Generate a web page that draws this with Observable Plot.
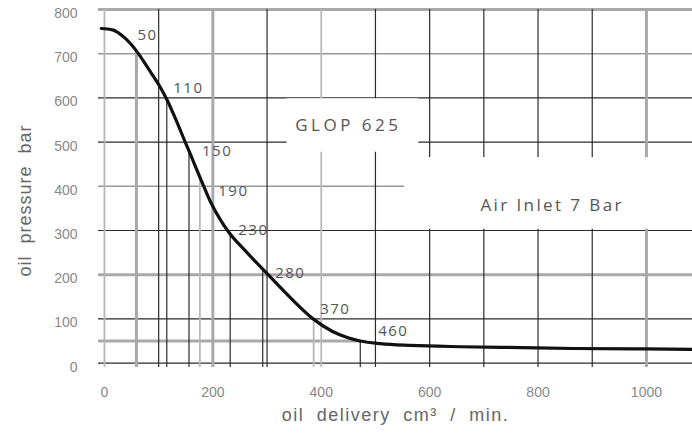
<!DOCTYPE html>
<html><head><meta charset="utf-8">
<script src="https://cdn.jsdelivr.net/npm/d3@7"></script>
<script src="https://cdn.jsdelivr.net/npm/@observablehq/plot@0.6"></script>
<style>
html,body{margin:0;padding:0;background:#fff;}
#chart svg{display:block;}
</style></head><body><div id="chart"></div>
<script>
// Axis ticks
const xTicks = [0, 200, 400, 600, 800, 1000];
const yTicks = [0, 100, 200, 300, 400, 500, 600, 700, 800];
const xMin = -11, xMax = 1085, yMin = -10, yMax = 800;

// Performance curve: oil delivery (cm3/min) vs oil pressure (bar)
const flow =     [-6, 15, 39, 61, 81, 103, 116, 131, 149, 160, 177, 196, 214, 227, 263, 302, 343, 385, 420, 448, 472, 509, 565, 657, 770, 865, 1000, 1085];
const pressure = [757, 754, 734, 703, 666, 624, 594, 553, 500, 468, 418, 364, 324, 300, 250, 200, 148, 100, 72, 58, 50, 44, 40, 37, 35, 33, 32, 31];

// Grid lines
const gridXDark = [100, 300, 500, 600, 700, 800, 900];
const gridXGrey = [200, 1000];
const gridXLight = [0, 400];
const gridYDark = [0, 100, 300, 500, 600];
const gridYGrey = [200, 800];
const gridYLight = [400, 700];
const gridYShort = [50];
const shortEnd = 472;

// Drop lines from the curve to the axis
const dropDark = [115, 156, 232, 292, 472];
const dropGrey = [59];
const dropLight = [176, 386];

// Point labels along the curve
const pointLabels = ["50", "110", "150", "190", "230", "280", "370", "460"];
const pointLabelX = [61, 127, 180, 210, 247, 315, 398, 505];
const pointLabelY = [743, 623, 479, 389, 300, 203, 122, 72];

// Annotations
const modelText = ["GLOP 625"];
const modelX = [450], modelY = [538];
const noteText = ["Air Inlet 7 Bar"];
const noteX = [826], noteY = [357];
// white boxes behind annotations (data extents)
const boxX1 = [337, 554], boxX2 = [580, 1090], boxY1 = [477, 303], boxY2 = [598, 465];

const xTitle = "oil delivery cm\u00B3 / min.";
const yTitle = "oil pressure bar";

const atFlow = d3.scaleLinear().domain(flow).range(pressure);
const boxes = boxX1.map((d, i) => ({x1: d, x2: boxX2[i], y1: boxY1[i], y2: boxY2[i]}));
const curve = flow.map((d, i) => ({x: d, y: pressure[i]}));
const labels = pointLabels.map((t, i) => ({t, x: pointLabelX[i], y: pointLabelY[i]}));

const DARK = "#2b2b2b", GREY = "#a9a9a9", LIGHT = "#b8b8b8";

const chart = Plot.plot({
  width: 692, height: 441,
  marginLeft: 98, marginRight: 0, marginTop: 9, marginBottom: 74,
  x: {domain: [xMin, xMax]},
  y: {domain: [yMin, yMax]},
  style: {fontFamily: "'Liberation Sans', Arial, sans-serif", color: "#888", background: "white"},
  marks: [
    Plot.ruleY(gridYLight, {stroke: "#9a9a9a", strokeWidth: 1.6}),
    Plot.ruleY(gridYGrey, {stroke: GREY, strokeWidth: 3}),
    Plot.ruleY(gridYShort, {x1: xMin, x2: shortEnd, stroke: GREY, strokeWidth: 3}),
    Plot.ruleY(gridYDark, {stroke: DARK, strokeWidth: 1.2}),
    Plot.ruleX(gridXLight, {y1: yMin, y2: yMax, stroke: LIGHT, strokeWidth: 1.8}),
    Plot.ruleX(gridXGrey, {y1: yMin, y2: yMax, stroke: GREY, strokeWidth: 3}),
    Plot.ruleX(gridXDark, {y1: yMin, y2: yMax, stroke: DARK, strokeWidth: 1.2}),
    Plot.ruleX(dropGrey, {y1: yMin, y2: d => atFlow(d), stroke: GREY, strokeWidth: 3}),
    Plot.ruleX(dropLight, {y1: yMin, y2: d => atFlow(d), stroke: LIGHT, strokeWidth: 1.8}),
    Plot.ruleX(dropDark, {y1: yMin, y2: d => atFlow(d), stroke: DARK, strokeWidth: 1.2}),
    Plot.rect(boxes, {x1: "x1", x2: "x2", y1: "y1", y2: "y2", fill: "white"}),
    Plot.line(curve, {x: "x", y: "y", curve: "monotone-x", stroke: "#111", strokeWidth: 3.2, strokeLinecap: "round"}),
    Plot.text(labels, {x: "x", y: "y", text: "t", textAnchor: "start", fontSize: 15, fill: "#555", fontFamily: "'Open Sans', sans-serif"}),
    Plot.text(modelText, {x: modelX, y: modelY, text: d => d, fontSize: 17, fill: "#555", fontFamily: "'Open Sans', sans-serif"}),
    Plot.text(noteText, {x: noteX, y: noteY, text: d => d, fontSize: 17, fill: "#555", fontFamily: "'Open Sans', sans-serif"}),
    Plot.axisX({ticks: xTicks, tickFormat: d => String(d), tickSize: 0, tickPadding: 20, fontSize: 14, label: null}),
    Plot.axisY({ticks: yTicks, tickFormat: d => String(d), tickSize: 0, tickPadding: 21, dy: 4, fontSize: 14, label: null}),
    Plot.text([xTitle], {frameAnchor: "bottom", textAnchor: "middle", lineAnchor: "middle", dy: 48, fontSize: 18, fill: "#666"}),
    Plot.text([yTitle], {frameAnchor: "left", textAnchor: "middle", lineAnchor: "middle", rotate: -90, dx: -73, dy: 12, fontSize: 18, fill: "#666"})
  ]
});
document.getElementById("chart").appendChild(chart);

// typographic spacing tweaks
const svg = d3.select(chart);
function spaceText(texts, ls, ws) {
  svg.selectAll("text")
    .filter(function () { return texts.includes(this.textContent); })
    .style("letter-spacing", ls + "px")
    .style("word-spacing", ws + "px");
}
spaceText(pointLabels, 1.5, 0);
spaceText(modelText, 3.5, 0);
spaceText(noteText, 2.4, 0);
spaceText([xTitle], 1.5, 6);
spaceText([yTitle], 1, 6);
</script>
</body></html>
